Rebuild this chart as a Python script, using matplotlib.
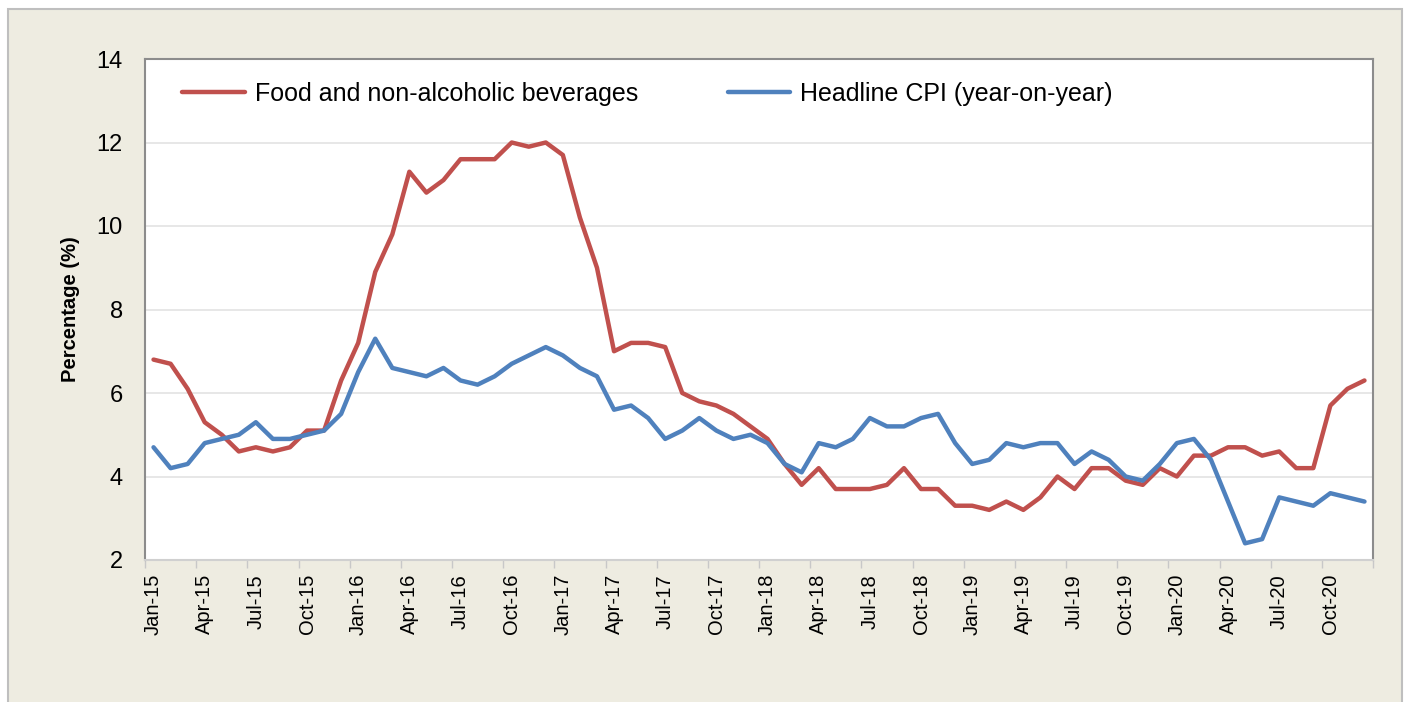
import matplotlib
matplotlib.use("Agg")
import matplotlib.pyplot as plt
import matplotlib.patches as mpatches
import numpy as np

plt.rcParams['font.family'] = ['Liberation Sans', 'DejaVu Sans']

# monthly values Jan-15 .. Dec-20
food = [6.8, 6.7, 6.1, 5.3, 5.0, 4.6, 4.7, 4.6, 4.7, 5.1, 5.1, 6.3,
        7.2, 8.9, 9.8, 11.3, 10.8, 11.1, 11.6, 11.6, 11.6, 12.0, 11.9, 12.0,
        11.7, 10.2, 9.0, 7.0, 7.2, 7.2, 7.1, 6.0, 5.8, 5.7, 5.5, 5.2,
        4.9, 4.3, 3.8, 4.2, 3.7, 3.7, 3.7, 3.8, 4.2, 3.7, 3.7, 3.3,
        3.3, 3.2, 3.4, 3.2, 3.5, 4.0, 3.7, 4.2, 4.2, 3.9, 3.8, 4.2,
        4.0, 4.5, 4.5, 4.7, 4.7, 4.5, 4.6, 4.2, 4.2, 5.7, 6.1, 6.3]
cpi = [4.7, 4.2, 4.3, 4.8, 4.9, 5.0, 5.3, 4.9, 4.9, 5.0, 5.1, 5.5,
       6.5, 7.3, 6.6, 6.5, 6.4, 6.6, 6.3, 6.2, 6.4, 6.7, 6.9, 7.1,
       6.9, 6.6, 6.4, 5.6, 5.7, 5.4, 4.9, 5.1, 5.4, 5.1, 4.9, 5.0,
       4.8, 4.3, 4.1, 4.8, 4.7, 4.9, 5.4, 5.2, 5.2, 5.4, 5.5, 4.8,
       4.3, 4.4, 4.8, 4.7, 4.8, 4.8, 4.3, 4.6, 4.4, 4.0, 3.9, 4.3,
       4.8, 4.9, 4.4, 3.4, 2.4, 2.5, 3.5, 3.4, 3.3, 3.6, 3.5, 3.4]

months = ['Jan', 'Feb', 'Mar', 'Apr', 'May', 'Jun', 'Jul', 'Aug', 'Sep', 'Oct', 'Nov', 'Dec']
years = ['15', '16', '17', '18', '19', '20']
labels = [m + '-' + y for y in years for m in months]

fig = plt.figure(figsize=(14.07, 7.02), dpi=100)
fig.patch.set_facecolor('white')

# beige chart panel behind the plot
panel = mpatches.Rectangle((8/1407, -0.01), 1394/1407, (702-9)/702 + 0.01,
                           transform=fig.transFigure, facecolor='#EEECE1',
                           edgecolor='#BFBFBF', linewidth=1.5, zorder=-1)
fig.patches.append(panel)

ax = fig.add_axes([145/1407, 142/702, 1228/1407, 501/702])
ax.set_facecolor('white')

x = np.arange(len(food))
ax.plot(x, food, color='#C0504D', linewidth=3.2, label='Food and non-alcoholic beverages',
        solid_joinstyle='round', solid_capstyle='round')
ax.plot(x, cpi, color='#4F81BD', linewidth=3.2, label='Headline CPI (year-on-year)',
        solid_joinstyle='round', solid_capstyle='round')

ax.set_xlim(-0.5, len(food) - 0.5)
ax.set_ylim(2, 14)
ax.set_yticks(np.arange(2, 15, 2))
ax.yaxis.grid(True, color='#E3E3E3', linewidth=1.2)
ax.set_axisbelow(True)
ax.tick_params(axis='y', length=0, labelsize=17, pad=16)

ax.set_xticks(x[::3])
ax.set_xticklabels(labels[::3], rotation=90, fontsize=14.5)
ax.set_xticks(np.arange(-0.5, len(food), 3), minor=True)
ax.tick_params(axis='x', which='major', length=0, pad=10)
ax.tick_params(axis='x', which='minor', length=6, color='#C8C8C8', width=1)

for side in ['left', 'top', 'right']:
    ax.spines[side].set_color('#8C8C8C')
    ax.spines[side].set_linewidth(1.5)
ax.spines['bottom'].set_color('#D0D0D0')
ax.spines['bottom'].set_linewidth(1.5)

ax.set_ylabel('Percentage (%)', fontsize=14.5, fontweight='bold', labelpad=12)

ax.legend(loc='upper left', ncol=2, frameon=False, fontsize=18,
          handlelength=2.5, handletextpad=0.4, columnspacing=3.6,
          bbox_to_anchor=(0.012, 1.0), borderaxespad=0.5)

fig.savefig('out.png', dpi=100)
